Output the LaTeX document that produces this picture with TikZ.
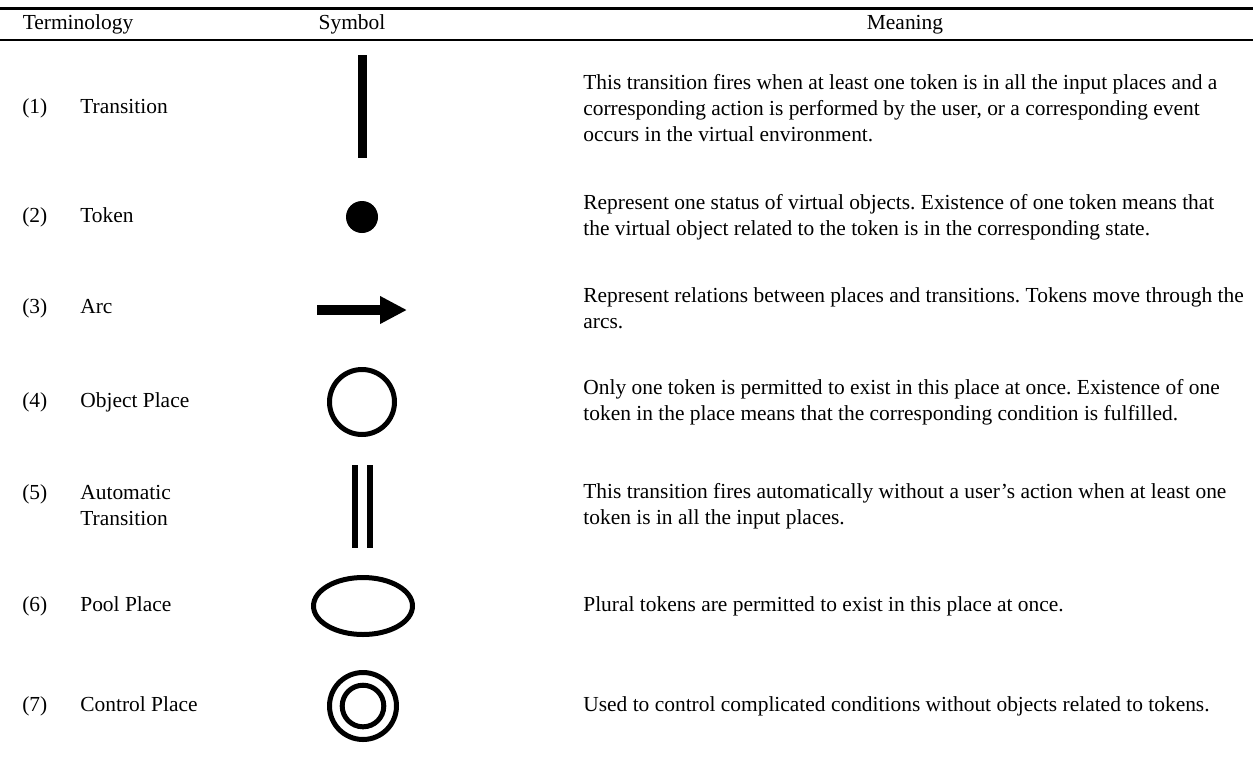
\documentclass[tikz,border=0pt]{standalone}
\usepackage{fontspec}
\setmainfont{Liberation Serif}
\usepackage{amsmath, amssymb}
\usetikzlibrary{positioning, arrows.meta}
\frenchspacing

\begin{document}
\begin{tikzpicture}[x=0.02cm, y=-0.02cm, every node/.style={font=\fontsize{12.2pt}{14.8pt}\selectfont, align=left, inner sep=0pt}]
    \useasboundingbox (0,0) rectangle (1253,761);
    % Lebar garis
    \def\w{0.1cm}

    % garis tabel
    \draw[line width=0.06cm] (0,8) -- (1253,8);
    \draw[line width=0.03cm] (0,40) -- (1253,40);

    % judul kolom
    \node[anchor=base] (hterm) at (78,29) {Terminology};
    \node[anchor=base] (hsym) at (352,29) {Symbol};
    \node[anchor=base] (hmean) at (905,29) {Meaning};

    % nomor dan istilah (baris terakhir untuk istilah)
    \foreach \i/\yy/\ty/\term in {1/108/108/Transition, 2/217/217/Token, 3/308/308/Arc,
        4/402/402/Object Place, 5/494/520/{Automatic\\Transition}, 6/606/606/Pool Place,
        7/706/706/Control Place}{
            \node[anchor=base west] (num\i) at (22,\yy+5) {(\i)};
            \node[anchor=base west] (term\i) at (80,\ty+5) {\term};
        }

    % simbol
    \fill (358,55) rectangle (367,158);
    \fill (362,217) circle (16);
    \coordinate (arcS) at (317,310);
    \coordinate (arcE) at (407,310);
    \draw[line width=0.2cm, -{Triangle[length=0.54cm, width=0.52cm]}] (arcS) -- (arcE);
    \draw[line width=\w] (362,402) circle (32.5);
    \foreach \xx in {355,370}{
        \draw[line width=0.12cm] (\xx,465) -- (\xx,548);
      }
    \draw[line width=\w] (363,606) ellipse (49.5 and 28.5);
    \draw[line width=\w] (363,706) circle (33.5);
    \draw[line width=\w] (363,706) circle (20.8);

    % arti
    \node[anchor=west] (mean1) at (583,108) {This transition fires when at least one token is in all the input places and a\\
        corresponding action is performed by the user, or a corresponding event\\
        occurs in the virtual environment.};
    \node[anchor=west] (mean2) at (583,217) {Represent one status of virtual objects. Existence of one token means that\\
        the virtual object related to the token is in the corresponding state.};
    \node[anchor=west] (mean3) at (583,308) {Represent relations between places and transitions. Tokens move through the\\
        arcs.};
    \node[anchor=west] (mean4) at (583,402) {Only one token is permitted to exist in this place at once. Existence of one\\
        token in the place means that the corresponding condition is fulfilled.};
    \node[anchor=west] (mean5) at (583,506) {This transition fires automatically without a user’s action when at least one\\
        token is in all the input places.};
    \node[anchor=base west] (mean6) at (583,611) {Plural tokens are permitted to exist in this place at once.};
    \node[anchor=base west] (mean7) at (583,711) {Used to control complicated conditions without objects related to tokens.};
  \end{tikzpicture}
\end{document}
